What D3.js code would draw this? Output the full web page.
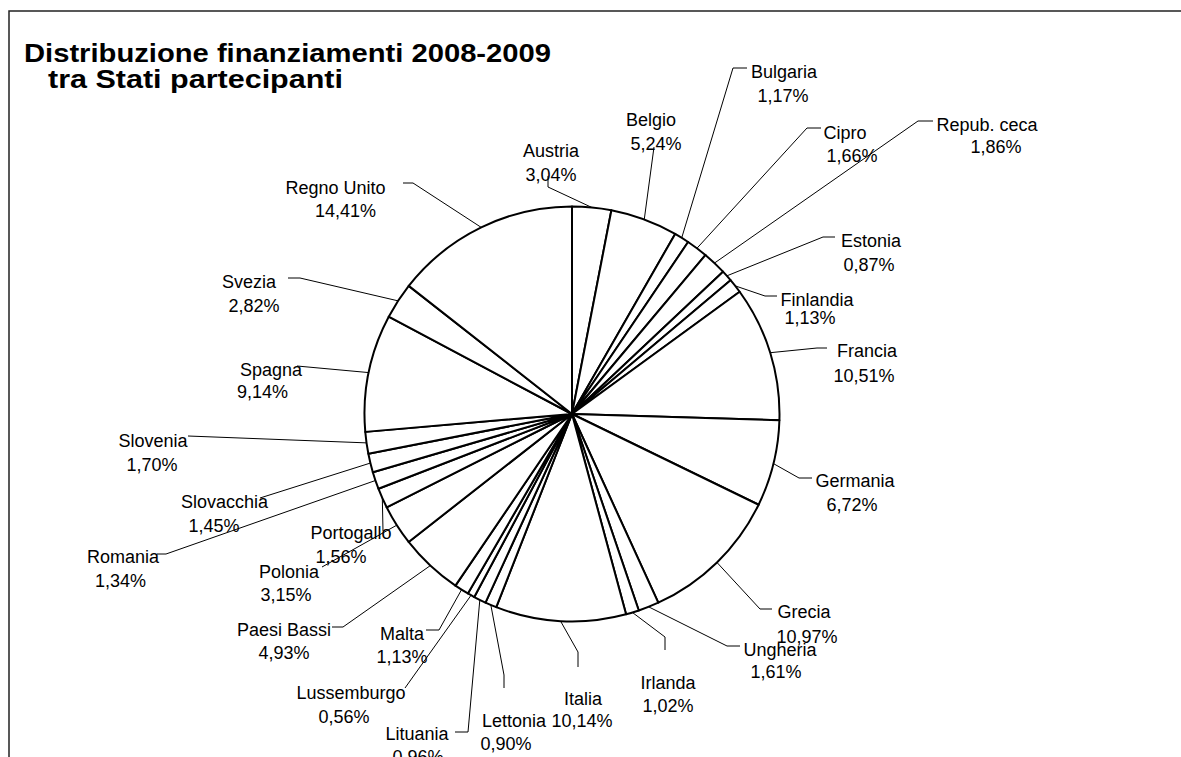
<!DOCTYPE html>
<html lang="it">
<head>
<meta charset="UTF-8">
<script src="https://d3js.org/d3.v7.min.js"></script>
<style>
  body { margin: 0; background: #fff; }
  svg { display: block; font-family: "Liberation Sans", Arial, sans-serif; }
</style>
</head>
<body>
<div id="chart"></div>
<script>
// data: share of 2008-2009 funding by member state (clockwise from 12 o'clock)
const countries = ["Austria", "Belgio", "Bulgaria", "Cipro", "Repub. ceca", "Estonia", "Finlandia",
  "Francia", "Germania", "Grecia", "Ungheria", "Irlanda", "Italia", "Lettonia", "Lituania",
  "Lussemburgo", "Malta", "Paesi Bassi", "Polonia", "Portogallo", "Romania", "Slovacchia",
  "Slovenia", "Spagna", "Svezia", "Regno Unito"];
const shares = [3.04, 5.24, 1.17, 1.66, 1.86, 0.87, 1.13, 10.51, 6.72, 10.97, 1.61, 1.02, 10.14,
  0.90, 0.96, 0.56, 1.13, 4.93, 3.15, 1.56, 1.34, 1.45, 1.70, 9.14, 2.82, 14.41];
const titleLines = ["Distribuzione finanziamenti 2008-2009", "tra Stati partecipanti"];

// label layout as placed by hand in the original: [nameX, nameY, pctX, pctY]
const labelPos = [
  [551, 157, 551, 181], [651, 126, 656, 150], [784, 78, 783, 101.5], [845, 138.5, 852, 162],
  [987, 130.7, 996, 153.3], [871, 247.3, 869, 270.7], [817, 306, 810, 324], [867, 357.3, 864, 381.7],
  [855, 487.3, 852, 511], [804, 618.3, 807, 642.7], [780, 656, 776, 678.3], [668, 689.3, 668, 711.7],
  [583, 705, 582, 727.3], [514, 726.7, 506, 750], [417, 740, 418, 763], [351, 699.3, 344, 722.7],
  [402, 640, 402, 663.3], [284, 636, 284, 659.3], [289, 577.7, 286, 600.7], [351, 539.3, 341, 563.3],
  [123, 563.3, 120.5, 587.3], [224.5, 508.3, 214, 531.7], [153, 446.7, 152, 470.7], [271, 376, 262.5, 398.3],
  [249, 288.3, 254, 311.7], [335.5, 194.3, 345.5, 216.7]
];
// leader line points near the label; the point on the pie edge is added from the arc
const leaderPts = [
  [[548, 176], [548, 187]], [[654, 147]], [[747, 68], [733, 68]], [[821, 128], [807, 128]],
  [[933, 121], [918, 121]], [[835, 237], [823, 237]], [[777, 296], [765, 296]], [[827, 348], [817, 348]],
  [[812, 478], [799, 478]], [[772, 609], [760, 609]], [[740, 646], [727, 646]], [[665, 650], [665, 637]],
  [[578, 667], [578, 652]], [[504, 688], [504, 675]], [[455, 732], [468, 732]], [[405, 688]],
  [[426, 630], [439, 630]], [[332, 627], [343, 627]], [[322, 567]], [[383, 531]],
  [[157, 554], [166, 554]], [[260, 498]], [[188, 436]], [[297, 366]],
  [[288, 278], [300, 278]], [[403, 183], [413, 183]]
];

const width = 1181, height = 757;
const cx = 572, cy = 414, radius = 207.5;

const svg = d3.select("#chart").append("svg")
  .attr("width", width)
  .attr("height", height);

// outer frame (runs off the right and bottom of the picture)
svg.append("rect")
  .attr("x", 9).attr("y", 11)
  .attr("width", 1250).attr("height", 800)
  .attr("fill", "none")
  .attr("stroke", "#222")
  .attr("stroke-width", 1.5);

// title
const titleX = [24, 48], titleY = [62, 88], titleW = [527, 295];
svg.selectAll(".title")
  .data(titleLines)
  .join("text")
  .attr("class", "title")
  .attr("x", (d, i) => titleX[i])
  .attr("y", (d, i) => titleY[i])
  .attr("textLength", (d, i) => titleW[i])
  .attr("lengthAdjust", "spacingAndGlyphs")
  .attr("font-size", 25.5)
  .attr("font-weight", "bold")
  .text(d => d);

const data = countries.map((c, i) => ({ name: c, value: shares[i] }));

const pie = d3.pie().sort(null).value(d => d.value);
const arcs = pie(data);

const arc = d3.arc().innerRadius(0).outerRadius(radius);
const edge = d3.arc().innerRadius(radius).outerRadius(radius);

const g = svg.append("g").attr("transform", `translate(${cx},${cy})`);

g.selectAll("path.slice")
  .data(arcs)
  .join("path")
  .attr("class", "slice")
  .attr("d", arc)
  .attr("fill", "#fff")
  .attr("stroke", "#000")
  .attr("stroke-width", 2)
  .attr("stroke-linejoin", "round");

// leader lines
const line = d3.line();
svg.selectAll("path.leader")
  .data(arcs)
  .join("path")
  .attr("class", "leader")
  .attr("d", (d, i) => {
    const [ex, ey] = edge.centroid(d);
    return line(leaderPts[i].concat([[cx + ex, cy + ey]]));
  })
  .attr("fill", "none")
  .attr("stroke", "#000")
  .attr("stroke-width", 1);

// labels
const fmt = v => v.toFixed(2).replace(".", ",") + "%";
const lbl = svg.selectAll("g.label")
  .data(arcs)
  .join("g")
  .attr("class", "label")
  .attr("font-size", 18)
  .attr("text-anchor", "middle");

lbl.append("text")
  .attr("x", (d, i) => labelPos[i][0])
  .attr("y", (d, i) => labelPos[i][1])
  .text(d => d.data.name);

lbl.append("text")
  .attr("x", (d, i) => labelPos[i][2])
  .attr("y", (d, i) => labelPos[i][3])
  .text(d => fmt(d.data.value));
</script>
</body>
</html>
